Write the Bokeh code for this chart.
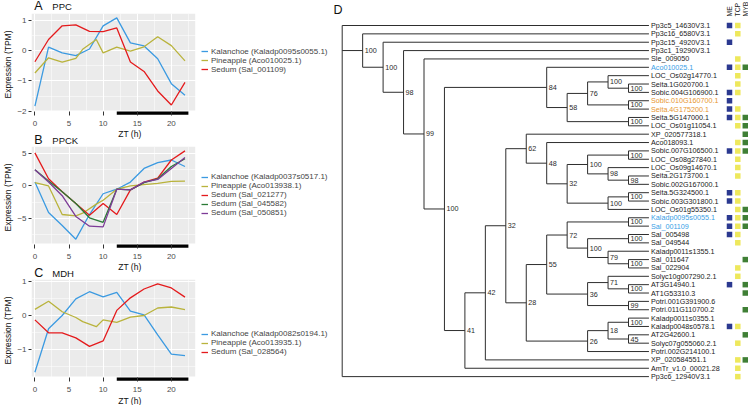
import numpy as np
from bokeh.plotting import figure
from bokeh.layouts import row, column
from bokeh.models import (Range1d, FixedTicker, BoxAnnotation, Legend,
                          LegendItem, ColumnDataSource)
from bokeh.embed import file_html
from bokeh.resources import INLINE
from bokeh.core.properties import value

FONT = "Liberation Sans"

# ---------------- time courses (panels A-C) ----------------
zt = [0, 2, 4, 6, 8, 10, 12, 14, 16, 18, 20, 22]
zt_pineapple = [0, 2, 4, 6, 7, 9, 10, 12, 14, 16, 18, 20, 22]
dark_period = [12, 22.5]
xticks = [0, 5, 10, 15, 20]
x_title = "ZT (h)"
y_title = "Expression (TPM)"

ppc_kalanchoe = [-1.83, 0.11, -0.08, -0.17, 0.05, 0.81, 1.07, 0.25, 0.15, -0.27, -1.09, -1.47]
ppc_pineapple = [-0.74, -0.24, -0.38, -0.26, 0.04, 0.36, -0.08, 0.11, -0.02, 0.12, 0.45, 0.16, -0.34]
ppc_sedum = [-0.37, 0.36, 0.81, 0.84, 0.63, 0.62, 0.74, -0.38, -0.69, -1.33, -1.79, -1.05]
ppc_labels = ["Kalanchoe (Kaladp0095s0055.1)", "Pineapple (Aco010025.1)", "Sedum (Sal_001109)"]
ppc_yticks = [-2, -1, 0, 1]

ppck_kalanchoe = [0.6, -4.1, -6.1, -8.2, -4.4, -1.2, -0.5, 0.6, 2.7, 3.6, 4.0, 3.0]
ppck_pineapple = [0.5, 0.0, -4.4, -4.6, -4.2, -2.8, -2.2, -0.5, 0.0, 0.2, 0.4, 0.7, 0.75]
ppck_sedum_021277 = [5.1, 1.1, -0.9, -2.7, -4.5, -2.7, -4.4, -0.6, 0.6, 1.2, 4.0, 5.4]
ppck_sedum_045582 = [2.5, 0.75, -0.9, -2.7, -4.9, -5.6, -0.5, -0.6, 0.5, 1.1, 3.0, 4.2]
ppck_sedum_050851 = [2.5, 0.6, -1.5, -4.7, -6.2, -6.3, -0.5, -0.6, 0.6, 1.0, 2.7, 4.4]
ppck_labels = ["Kalanchoe (Kaladp0037s0517.1)", "Pineapple (Aco013938.1)",
               "Sedum (Sal_021277)", "Sedum (Sal_045582)", "Sedum (Sal_050851)"]
ppck_yticks = [-5, 0, 5]

mdh_kalanchoe = [-1.67, -0.39, 0.0, 0.49, 0.70, 0.55, 0.68, 0.13, 0.02, -0.57, -1.14, -1.18]
mdh_pineapple = [0.18, 0.42, 0.11, -0.06, -0.18, -0.33, -0.13, -0.20, -0.05, 0.0, 0.22, 0.25, 0.17]
mdh_sedum = [-0.13, -0.51, -0.51, -0.66, -0.91, -0.75, 0.15, 0.52, 0.78, 0.93, 0.81, 0.54]
mdh_labels = ["Kalanchoe (Kaladp0082s0194.1)", "Pineapple (Aco013935.1)", "Sedum (Sal_028564)"]
mdh_yticks = [-1, 0, 1]

# ---------------- phylogeny (panel D) ----------------
TREE_NEWICK = (
    "(Pp3c5_14630V3.1,(Pp3c16_6580V3.1,(Pp3c15_4920V3.1,(Pp3c1_19290V3.1,"
    "(Sle_009050,("
    "(Aco010025.1,(((LOC_Os02g14770.1,(Seita.1G020700.1,Sobic.004G106900.1)100)100,"
    "(Sobic.010G160700.1,Seita.4G175200.1)100)76,(Seita.5G147000.1,LOC_Os01g11054.1)100)58)84,"
    "((((XP_020577318.1,(Aco018093.1,(((Sobic.007G106500.1,LOC_Os08g27840.1)100,"
    "(LOC_Os09g14670.1,(Seita.2G173700.1,Sobic.002G167000.1)98)98)100,"
    "((Seita.5G324500.1,Sobic.003G301800.1)100,LOC_Os01g55350.1)100)32)48)62,"
    "((((Kaladp0095s0055.1,Sal_001109)100,((Sal_005498,Sal_049544)100,"
    "(Kaladp0011s1355.1,(Sal_011647,Sal_022904)100)79)100)72,"
    "((Solyc10g007290.2.1,(AT3G14940.1,AT1G53310.3)100)71,"
    "(Potri.001G391900.6,Potri.011G110700.2)99)36)55,"
    "(((Kaladp0011s0355.1,Kaladp0048s0578.1)100,(AT2G42600.1,Solyc07g055060.2.1)45)18,"
    "Potri.002G214100.1)26)28)32,XP_020584551.1)42,AmTr_v1.0_00021.28)41"
    ")100)99)98)100)100,Pp3c6_12940V3.1);"
)

blue_labels = ["Aco010025.1", "Kaladp0095s0055.1", "Sal_001109"]
orange_labels = ["Sobic.010G160700.1", "Seita.4G175200.1"]

has_ME = ["Pp3c5_14630V3.1", "Pp3c15_4920V3.1", "Aco010025.1", "Sobic.004G106900.1",
          "Sobic.010G160700.1", "Seita.4G175200.1", "Seita.5G147000.1", "Sobic.007G106500.1",
          "Seita.5G324500.1", "Sobic.003G301800.1", "Kaladp0095s0055.1", "Sal_001109",
          "Sal_005498", "AT3G14940.1", "Kaladp0048s0578.1"]
has_TCP = ["Pp3c5_14630V3.1", "Pp3c16_6580V3.1", "Sle_009050", "Aco010025.1",
           "LOC_Os02g14770.1", "Seita.1G020700.1", "Sobic.004G106900.1", "Seita.4G175200.1",
           "Seita.5G147000.1", "LOC_Os01g11054.1", "Aco018093.1", "Sobic.007G106500.1",
           "LOC_Os08g27840.1", "LOC_Os09g14670.1", "Seita.2G173700.1", "Seita.5G324500.1",
           "Sobic.003G301800.1", "LOC_Os01g55350.1", "Kaladp0095s0055.1", "Sal_001109",
           "Sal_005498", "Sal_049544", "Sal_022904", "Solyc10g007290.2.1",
           "Kaladp0048s0578.1", "Solyc07g055060.2.1", "XP_020584551.1",
           "AmTr_v1.0_00021.28", "Pp3c6_12940V3.1"]
has_MYB = ["Aco010025.1", "Seita.5G147000.1", "LOC_Os01g11054.1", "XP_020577318.1",
           "Aco018093.1", "Sobic.007G106500.1", "LOC_Os01g55350.1", "Kaladp0095s0055.1",
           "Sal_001109", "Sal_011647", "AT3G14940.1", "AT1G53310.3", "Potri.011G110700.2",
           "AT2G42600.1", "XP_020584551.1"]
motif_names = ["ME", "TCP", "MYB"]

# ---------------- styles / layout ----------------
C_KAL, C_PIN, C_SED, C_GRN, C_PUR = "#3B9AE1", "#B9B33C", "#E41A1C", "#2A7A35", "#7D3B97"
MOTIF_COLORS = ["#2B3990", "#EEE85C", "#3F7F35"]
LEFT_W, TREE_W, TOTAL_H = 330, 418, 405
BORDER_L, BORDER_T, AXIS_B = 25, 1, 11
PANEL_W = 167
STRIP_PX = 5
TXT = "#111111"


def make_strip(height, texts):
    """A thin text strip (panel letters, titles, x-axis titles) between panels."""
    h = figure(width=LEFT_W, height=height, x_range=Range1d(0, LEFT_W), y_range=Range1d(0, height),
               output_backend="svg", toolbar_location=None, x_axis_location=None,
               y_axis_location=None, min_border=0, outline_line_color=None, title=None,
               background_fill_color="white", border_fill_color="white")
    h.grid.visible = False
    for x, y, txt, size, baseline, align in texts:
        h.text(x=[x], y=[y], text=[txt], text_font=value(FONT), text_font_size=size,
               text_baseline=baseline, text_align=align, text_color=TXT)
    return h


def make_panel(series, yticks, height, legend_center):
    allv = np.concatenate([np.asarray(s[2], float) for s in series])
    lo, hi = allv.min(), allv.max()
    pad = 0.05 * (hi - lo)
    lo, hi = lo - pad, hi + pad
    frame_h = height - BORDER_T - AXIS_B
    strip = (hi - lo) * STRIP_PX / (frame_h - STRIP_PX)
    step = yticks[1] - yticks[0]
    yminor = [t + step / 2 for t in [yticks[0] - step] + list(yticks)]
    yminor = [m for m in yminor if lo < m < hi]
    xminor = [t + 2.5 for t in [-5] + xticks]
    xminor = [m for m in xminor if -0.5 < m < 23.5]
    px_per_h = PANEL_W / 24.0
    x_end = -0.5 + (LEFT_W - BORDER_L) / px_per_h

    p = figure(width=LEFT_W, height=height, title=None,
               x_range=Range1d(-0.5, x_end), y_range=Range1d(lo - strip, hi),
               output_backend="svg", toolbar_location=None,
               min_border_left=BORDER_L, min_border_right=0,
               min_border_top=BORDER_T, min_border_bottom=0,
               background_fill_color="white", border_fill_color="white",
               outline_line_color=None)
    p.add_layout(BoxAnnotation(bottom=lo, right=23.5, fill_color="#EBEBEB", fill_alpha=1.0,
                               line_color=None, level="image"))
    p.xaxis.ticker = FixedTicker(ticks=xticks, minor_ticks=xminor)
    p.yaxis.ticker = FixedTicker(ticks=list(yticks), minor_ticks=yminor)
    p.grid.grid_line_color = "white"
    p.grid.grid_line_width = 1.1
    p.grid.minor_grid_line_color = "white"
    p.grid.minor_grid_line_width = 0.5

    for ax in (p.xaxis, p.yaxis):
        ax.axis_line_color = None
        ax.minor_tick_line_color = None
        ax.major_tick_line_color = "#333333"
        ax.major_label_text_font_size = "8px"
        ax.major_label_text_color = "#4D4D4D"
        ax.major_label_text_font = FONT
        ax.axis_label_text_font = FONT
        ax.axis_label_text_font_size = "8.5px"
        ax.axis_label_text_font_style = "normal"
        ax.axis_label_text_color = TXT
        ax.major_label_standoff = 1
        ax.axis_label_standoff = 1
    p.xaxis.major_tick_in = 4
    p.xaxis.major_tick_out = 0
    p.yaxis.major_tick_in = 0
    p.yaxis.major_tick_out = 3
    p.yaxis.axis_label = y_title

    items = []
    for lab, x, y, col in series:
        r = p.line(x, y, line_color=col, line_width=1.3)
        items.append(LegendItem(label=lab, renderers=[r]))

    p.quad(left=[dark_period[0]], right=[dark_period[1]],
           bottom=[lo - strip * 0.85], top=[lo - strip * 0.2],
           fill_color="black", line_color=None)

    row_h, leg_pad = 8, 2
    leg_h = len(items) * row_h + 2 * leg_pad
    leg_y = frame_h - legend_center - leg_h / 2
    leg = Legend(items=items, location=(PANEL_W + 3, leg_y), margin=0, padding=leg_pad,
                 spacing=0, label_text_font_size="8px", label_text_font=FONT,
                 label_height=row_h, glyph_height=row_h, glyph_width=7, label_standoff=3,
                 border_line_color=None, background_fill_alpha=0)
    p.add_layout(leg)
    return p


XC = BORDER_L + PANEL_W / 2
hA = make_strip(12, [(3, 0, "A", "12.5px", "bottom", "left"),
                     (BORDER_L - 2, 0.5, "PPC", "9.5px", "bottom", "left")])
pA = make_panel([(ppc_labels[0], zt, ppc_kalanchoe, C_KAL),
                 (ppc_labels[1], zt_pineapple, ppc_pineapple, C_PIN),
                 (ppc_labels[2], zt, ppc_sedum, C_SED)], ppc_yticks, 116, 48.5)
hB = make_strip(17, [(XC, 17, x_title, "8.5px", "top", "center"),
                     (3, -1, "B", "12.5px", "bottom", "left"),
                     (BORDER_L - 2, 0, "PPCK", "9.5px", "bottom", "left")])
pB = make_panel([(ppck_labels[0], zt, ppck_kalanchoe, C_KAL),
                 (ppck_labels[1], zt_pineapple, ppck_pineapple, C_PIN),
                 (ppck_labels[2], zt, ppck_sedum_021277, C_SED),
                 (ppck_labels[3], zt, ppck_sedum_045582, C_GRN),
                 (ppck_labels[4], zt, ppck_sedum_050851, C_PUR)], ppck_yticks, 116, 51)
hC = make_strip(17, [(XC, 17, x_title, "8.5px", "top", "center"),
                     (3, -1, "C", "12.5px", "bottom", "left"),
                     (BORDER_L - 2, 0, "MDH", "9.5px", "bottom", "left")])
pC = make_panel([(mdh_labels[0], zt, mdh_kalanchoe, C_KAL),
                 (mdh_labels[1], zt_pineapple, mdh_pineapple, C_PIN),
                 (mdh_labels[2], zt, mdh_sedum, C_SED)], mdh_yticks, 116, 65)
fC = make_strip(11, [(XC, 11, x_title, "8.5px", "top", "center")])


# ---------------- tree layout ----------------
def parse_newick(s):
    s = s.strip().rstrip(";")
    pos = 0

    def read_name():
        nonlocal pos
        start = pos
        while pos < len(s) and s[pos] not in "(),;":
            pos += 1
        return s[start:pos]

    def node():
        nonlocal pos
        if s[pos] == "(":
            pos += 1
            kids = [node()]
            while s[pos] == ",":
                pos += 1
                kids.append(node())
            pos += 1  # ')'
            return {"children": kids, "support": read_name()}
        return {"name": read_name(), "children": []}

    return node()


tree = parse_newick(TREE_NEWICK)
leaves = []


def place(n):
    if not n["children"]:
        n["y"] = len(leaves)
        n["h"] = 0
        leaves.append(n)
        return
    for c in n["children"]:
        place(c)
    n["h"] = 1 + max(c["h"] for c in n["children"])
    n["y"] = (n["children"][0]["y"] + n["children"][-1]["y"]) / 2


place(tree)
TOP = tree["h"]

seg = dict(x0=[], y0=[], x1=[], y1=[])
labels = dict(x=[], y=[], t=[], c=[])


def collect(n):
    n["x"] = TOP - n["h"]
    for c in n["children"]:
        collect(c)
    if n["children"]:
        kids = n["children"]
        seg["x0"].append(n["x"]); seg["y0"].append(kids[0]["y"])
        seg["x1"].append(n["x"]); seg["y1"].append(kids[-1]["y"])
        for c in kids:
            seg["x0"].append(n["x"]); seg["y0"].append(c["y"])
            seg["x1"].append(c["x"]); seg["y1"].append(c["y"])
        if n["support"]:
            labels["x"].append(n["x"] + 0.1); labels["y"].append(n["y"])
            labels["t"].append(n["support"]); labels["c"].append("#2A2A2A")


collect(tree)
for lf in leaves:
    nm = lf["name"]
    labels["x"].append(lf["x"] + 0.1); labels["y"].append(lf["y"]); labels["t"].append(nm)
    labels["c"].append("#3AA0E6" if nm in blue_labels else
                       "#E8962E" if nm in orange_labels else "#1A1A1A")

# layout constants of the cladogram (pixel size of one depth level / one row)
LEVEL_PX, ROOT_X = 20.45, 341.7
ROW_PX, ROW0_Y = 8.36, 25.0
t = figure(width=TREE_W, height=TOTAL_H, title=None,
           x_range=Range1d((LEFT_W - ROOT_X) / LEVEL_PX, (LEFT_W + TREE_W - ROOT_X) / LEVEL_PX),
           y_range=Range1d((TOTAL_H - ROW0_Y) / ROW_PX, -ROW0_Y / ROW_PX),
           output_backend="svg", toolbar_location=None,
           x_axis_location=None, y_axis_location=None, min_border=0,
           outline_line_color=None, background_fill_color="white", border_fill_color="white")
t.grid.visible = False

t.segment(x0="x0", y0="y0", x1="x1", y1="y1", source=ColumnDataSource(seg),
          line_color="#2E2E2E", line_width=1)
t.text(x="x", y="y", text="t", text_color="c", source=ColumnDataSource(labels),
       text_font=value(FONT), text_font_size="7.2px", text_baseline="middle", text_align="left")

motif_cols = [(729 - ROOT_X) / LEVEL_PX, (737.3 - ROOT_X) / LEVEL_PX, (744.8 - ROOT_X) / LEVEL_PX]
for members, cx, col in zip([has_ME, has_TCP, has_MYB], motif_cols, MOTIF_COLORS):
    ys = [lf["y"] for lf in leaves if lf["name"] in members]
    t.scatter(x=[cx] * len(ys), y=ys, marker="square", size=5.5,
              fill_color=col, line_color=None)
t.text(x=motif_cols, y=[(16 - ROW0_Y) / ROW_PX] * 3, text=motif_names,
       angle=np.pi / 2, text_align="left", text_baseline="middle",
       text_font=value(FONT), text_font_size="6.8px", text_color="#1A1A1A")
t.text(x=[(333 - ROOT_X) / LEVEL_PX], y=[(16 - ROW0_Y) / ROW_PX], text=["D"],
       text_font=value(FONT), text_font_size="12.5px", text_baseline="bottom", text_color=TXT)

layout = row(column(hA, pA, hB, pB, hC, pC, fC), t)
open("out.html", "w").write(file_html(layout, INLINE))
